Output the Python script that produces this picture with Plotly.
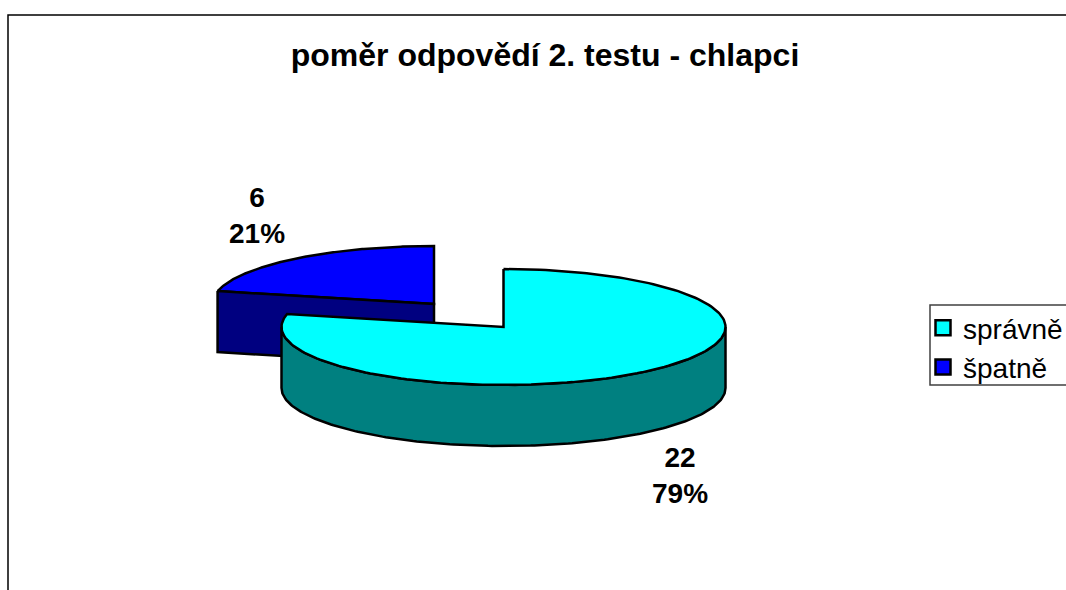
import math
import plotly.graph_objects as go

TITLE = "poměr odpovědí 2. testu - chlapci"
categories = ["správně", "špatně"]
values = [22, 6]
top_colors = ["#00FFFF", "#0000FF"]
side_colors = ["#008080", "#000080"]

FONT = "Liberation Sans, Arial, sans-serif"
W, H = 1100, 590  # canvas runs past the 1066 px window so the frame and legend box are cut off at its edge
RX, RY, DEPTH = 222, 58, 61
centers = [(503.5, 327), (434, 304)]
label_pos = [(680, 475), (257, 215)]

total = sum(values)
spans = []
a = 0.0
for v in values:
    spans.append((a, a + 360.0 * v / total))
    a += 360.0 * v / total


def rim(c, a0, a1, dy=0.0, n=180):
    pts = []
    for i in range(n + 1):
        t = math.radians(a0 + (a1 - a0) * i / n)
        pts.append((c[0] + RX * math.sin(t), c[1] - RY * math.cos(t) + dy))
    return pts


def poly(pts, color):
    xs = [p[0] for p in pts] + [pts[0][0]]
    ys = [p[1] for p in pts] + [pts[0][1]]
    return go.Scatter(
        x=xs, y=ys, mode="lines", fill="toself", fillcolor=color,
        line=dict(color="black", width=2.5), showlegend=False, hoverinfo="skip",
    )


fig = go.Figure()

# Second slice (behind): top face, then its visible radial wall
c = centers[1]
a0, a1 = spans[1]
fig.add_trace(poly(rim(c, a0, a1) + [c], top_colors[1]))
corner = rim(c, a0, a0, n=1)[0]
fig.add_trace(poly([corner, c, (c[0], c[1] + DEPTH), (corner[0], corner[1] + DEPTH)], side_colors[1]))

# First slice (front): outer wall, then top face
c = centers[0]
a0, a1 = spans[0]
wall_a0, wall_a1 = 90.0, min(a1, 270.0)
fig.add_trace(poly(rim(c, wall_a0, wall_a1) + rim(c, wall_a1, wall_a0, DEPTH), side_colors[0]))
fig.add_trace(poly(rim(c, a0, a1) + [c], top_colors[0]))

# Legend entries
for name, color in zip(categories, top_colors):
    fig.add_trace(go.Scatter(
        x=[None], y=[None], mode="markers", name=name, legendgroup=name,
        marker=dict(symbol="square", size=15, color=color, line=dict(color="black", width=2.5)),
    ))

annotations = []
for v, pos in zip(values, label_pos):
    annotations.append(dict(
        x=pos[0], y=pos[1], xref="x", yref="y", showarrow=False,
        text=f"{v}<br>{round(100 * v / total)}%",
        font=dict(family=FONT, size=28, color="black", weight="bold"),
        xanchor="center", yanchor="middle", align="center",
    ))

fig.update_layout(
    width=W, height=H,
    margin=dict(l=0, r=0, t=0, b=0),
    paper_bgcolor="white", plot_bgcolor="white",
    title=dict(text=TITLE, x=545 / W, xanchor="center", y=1 - 55 / H, yanchor="middle",
               font=dict(family=FONT, size=32, color="black", weight="bold")),
    xaxis=dict(range=[0, W], visible=False, fixedrange=True),
    yaxis=dict(range=[H, 0], visible=False, fixedrange=True),
    legend=dict(x=923 / W, xanchor="left", y=1 - 303 / H, yanchor="top",
                font=dict(family=FONT, size=28, color="black"),
                bgcolor="rgba(0,0,0,0)", borderwidth=0,
                tracegroupgap=0),
    annotations=annotations,
    shapes=[
        dict(type="rect", xref="x", yref="y", x0=8, y0=15, x1=W + 20, y1=H + 20,
             line=dict(color="black", width=1.5), layer="below"),
        dict(type="rect", xref="x", yref="y", x0=930, y0=305, x1=W + 20, y1=385,
             line=dict(color="#404040", width=1.5), layer="below"),
    ],
    showlegend=True,
)

fig.write_html("out.html", config=dict(displayModeBar=False),
               post_script="document.body.style.margin='0';document.body.style.overflow='hidden';"
                           "document.documentElement.style.overflow='hidden';")
